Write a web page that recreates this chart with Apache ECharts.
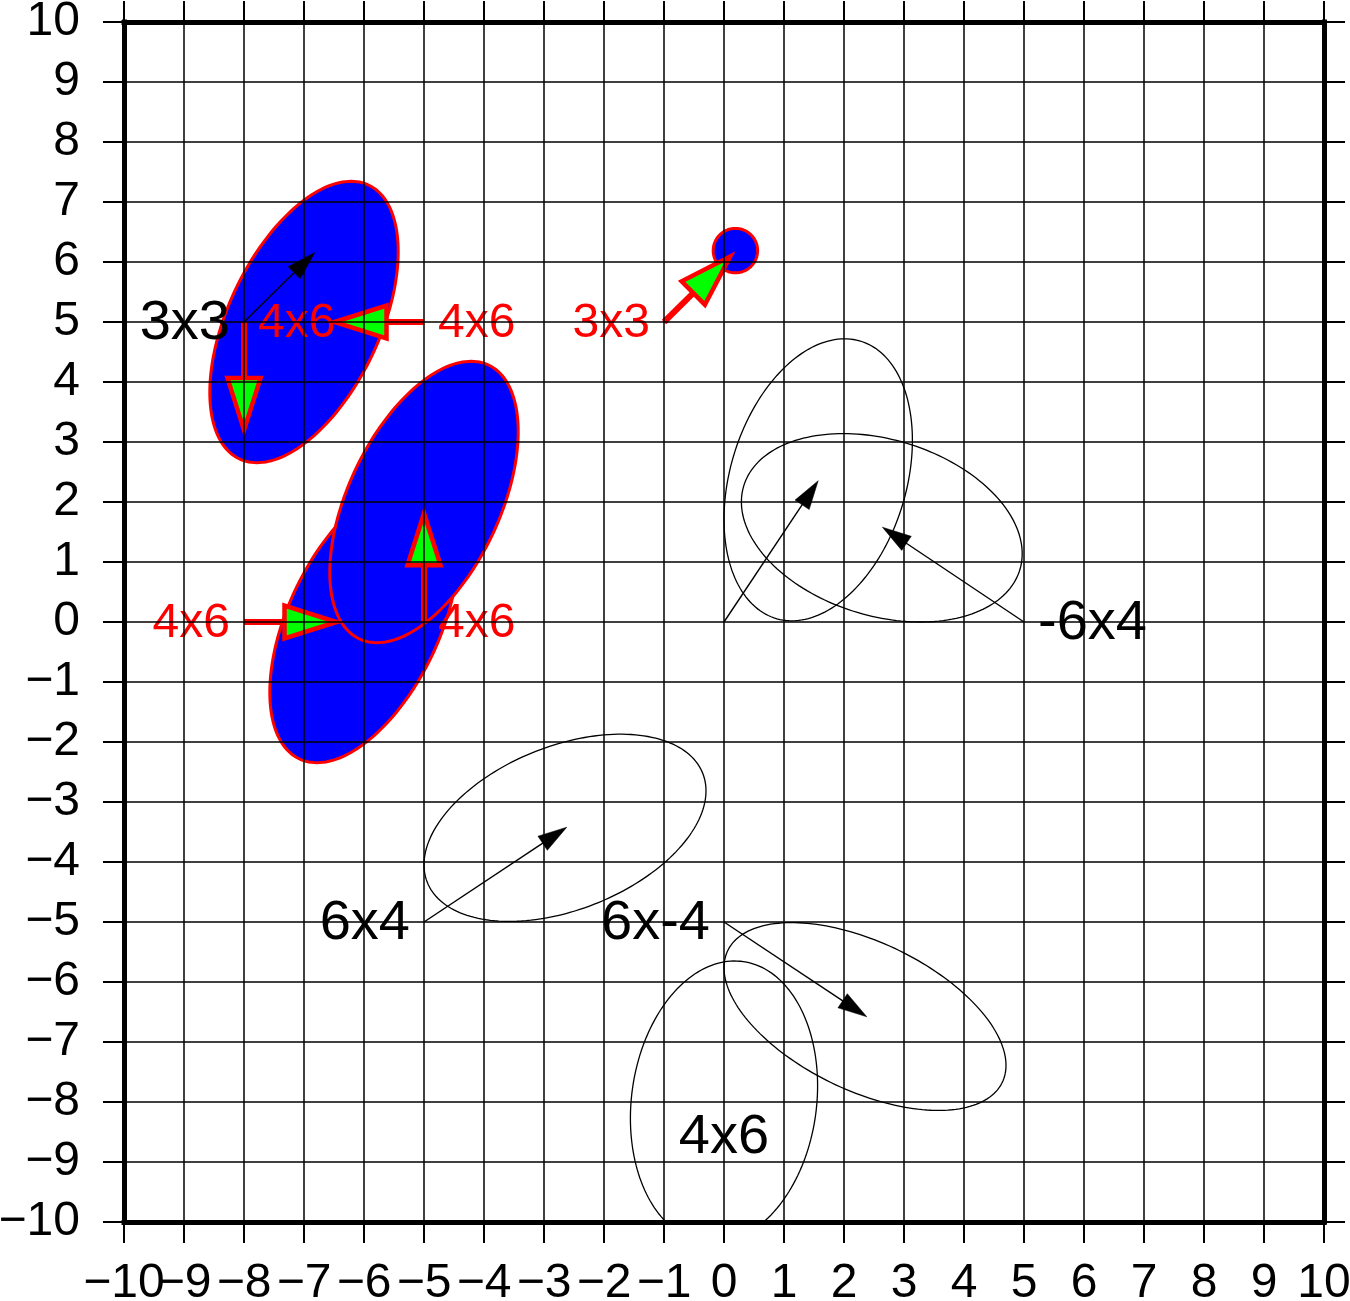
<!DOCTYPE html>
<html><head><meta charset="utf-8">
<script src="https://cdn.jsdelivr.net/npm/echarts@6/dist/echarts.min.js"></script>
<style>html,body{margin:0;padding:0;background:#fff}#c{width:1350px;height:1301px}</style>
</head><body><div id="c"></div>
<script>
// ---- data ----
const tickValues = [-10,-9,-8,-7,-6,-5,-4,-3,-2,-1,0,1,2,3,4,5,6,7,8,9,10];

// filled error ellipses: [centerX, centerY, sigmaX, sigmaY, rho]
const filledEllipses = [
  [-7, 5, 1.57, 2.345, 0.5],
  [-6, 0, 1.57, 2.345, 0.5],
  [-5, 2, 1.57, 2.345, 0.5],
  [0.19, 6.19, 0.37, 0.37, 0]
];
// open error ellipses: [centerX, centerY, sigmaX, sigmaY, rho]
const openEllipses = [
  [1.57, 2.37, 1.57, 2.35, 0.28],
  [2.63, 1.57, 2.34, 1.57, -0.275],
  [-2.65, -3.43, 2.35, 1.56, 0.395],
  [2.35, -6.575, 2.35, 1.565, -0.52],
  [0, -8.0, 1.56, 2.35, 0.115]
];
// black vectors: [x0, y0, x1, y1]
const blackVectors = [
  [-8, 5, -6.82, 6.16],
  [0, 0, 1.57, 2.355],
  [5, 0, 2.64, 1.58],
  [-5, -5, -2.62, -3.42],
  [0, -5, 2.38, -6.58]
];
// red vectors: [x0, y0, x1, y1]
const redVectors = [
  [-8, 5, -8, 3.09],
  [-5, 5, -6.6, 5],
  [-8, 0, -6.35, 0],
  [-5, 0, -5, 1.92],
  [-1, 5, 0.18, 6.17]
];
// labels: [x, y, text, anchor side]
const blackLabels = [
  [-8, 5, '3x3', 'right'],
  [5, 0, '-6x4', 'left'],
  [-5, -5, '6x4', 'right'],
  [0, -5, '6x-4', 'right'],
  [0, -8.56, '4x6', 'center']
];
const redLabels = [
  [-8, 5, '4x6', 'left'],
  [-5, 5, '4x6', 'left'],
  [-8, 0, '4x6', 'right'],
  [-5, 0, '4x6', 'left'],
  [-1, 5, '3x3', 'right']
];

// ---- rendering ----
const FONT = '"Liberation Sans", Arial, Helvetica, sans-serif';
const axMin = tickValues[0], axMax = tickValues[tickValues.length-1], axStep = tickValues[1]-tickValues[0];
const fmt = v => String(v).replace('-', '\u2212');
const fmtEven = v => (Math.abs(Math.round(v)) % 2 === 0 ? fmt(v) : '');
const fmtOdd = v => (Math.abs(Math.round(v)) % 2 === 1 ? fmt(v) : '');

function ellipseRenderer(fill, stroke, lw) {
  return function (params, api) {
    const cx = api.value(0), cy = api.value(1), sx = api.value(2), sy = api.value(3), r = api.value(4);
    const s = Math.sqrt(1 - r * r);
    const pts = [];
    const N = 180;
    for (let i = 0; i < N; i++) {
      const t = i / N * 2 * Math.PI, c = Math.cos(t), sn = Math.sin(t);
      pts.push(api.coord([cx + sx * c, cy + sy * (r * c + s * sn)]));
    }
    return { type: 'polygon', shape: { points: pts }, style: { fill: fill, stroke: stroke, lineWidth: lw } };
  };
}

function arrowRenderer(o) {
  return function (params, api) {
    const p0 = api.coord([api.value(0), api.value(1)]);
    const p1 = api.coord([api.value(2), api.value(3)]);
    const dx = p1[0] - p0[0], dy = p1[1] - p0[1], L = Math.hypot(dx, dy);
    const ux = dx / L, uy = dy / L, nx = -uy, ny = ux;
    const tip = [p1[0] - ux * o.inset, p1[1] - uy * o.inset];
    const base = [tip[0] - ux * o.headLen, tip[1] - uy * o.headLen];
    const c1 = [base[0] + nx * o.headW / 2, base[1] + ny * o.headW / 2];
    const c2 = [base[0] - nx * o.headW / 2, base[1] - ny * o.headW / 2];
    return {
      type: 'group',
      children: [
        { type: 'line', shape: { x1: p0[0], y1: p0[1], x2: base[0] + ux * 2, y2: base[1] + uy * 2 },
          style: { stroke: o.shaftColor, lineWidth: o.shaftW } },
        { type: 'polygon', shape: { points: [tip, c1, c2] },
          style: { fill: o.headFill, stroke: o.headStroke, lineWidth: o.headLW, lineJoin: 'miter' } }
      ]
    };
  };
}

function labelRenderer(arr, color, size) {
  return function (params, api) {
    const d = arr[params.dataIndex];
    const p = api.coord([d[0], d[1]]);
    const off = d[3] === 'left' ? 14 : (d[3] === 'right' ? -14 : 0);
    return { type: 'text', x: p[0] + off, y: p[1] + 2,
      style: { text: d[2], fill: color, fontSize: size, fontFamily: FONT, align: d[3], verticalAlign: 'middle' } };
  };
}

function axis(pos, showLabel, isMain, margin, formatter, bare) {
  return {
    type: 'value', min: axMin, max: axMax, interval: axStep, position: pos, z: 10,
    axisLine: { show: !bare, onZero: false, lineStyle: { color: '#000', width: 5, cap: 'square' } },
    axisTick: { show: !bare, inside: false, length: 21, lineStyle: { color: '#000', width: 2 } },
    axisLabel: { show: showLabel, formatter: formatter || fmt, fontSize: 48, color: '#000', fontFamily: FONT, margin: margin,
      showMinLabel: true, showMaxLabel: true, hideOverlap: false },
    splitLine: { show: isMain, lineStyle: { color: '#000', width: 1.5 } }
  };
}

const chart = echarts.init(document.getElementById('c'), null, { renderer: 'canvas' });
chart.setOption({
  animation: false,
  backgroundColor: '#fff',
  grid: { left: 124, right: 26, top: 22, bottom: 79, containLabel: false, outerBoundsMode: 'none' },
  xAxis: [
    axis('bottom', true, true, 38, fmtEven, false),
    axis('top', false, false, 8, fmt, false),
    axis('bottom', true, false, 38, fmtOdd, true)
  ],
  yAxis: [axis('left', true, true, 44, fmt, false), axis('right', false, false, 8, fmt, false)],
  series: [
    { type: 'custom', clip: true, data: filledEllipses, renderItem: ellipseRenderer('#0000ff', '#ff0000', 3) },
    { type: 'custom', clip: true, data: openEllipses, renderItem: ellipseRenderer('none', '#000', 1.3) },
    { type: 'custom', clip: true, data: blackVectors, renderItem: arrowRenderer({
        inset: 0, headLen: 29, headW: 17, shaftW: 1.4, shaftColor: '#000', headFill: '#000', headStroke: '#000', headLW: 0.5 }) },
    { type: 'custom', clip: true, data: redVectors, renderItem: arrowRenderer({
        inset: 6.5, headLen: 52, headW: 33, shaftW: 6, shaftColor: '#ff0000', headFill: '#00ff00', headStroke: '#ff0000', headLW: 4.5 }) },
    { type: 'custom', data: blackLabels.map(d => [d[0], d[1]]), renderItem: labelRenderer(blackLabels, '#000', 56) },
    { type: 'custom', data: redLabels.map(d => [d[0], d[1]]), renderItem: labelRenderer(redLabels, '#ff0000', 48) }
  ]
});
</script></body></html>
